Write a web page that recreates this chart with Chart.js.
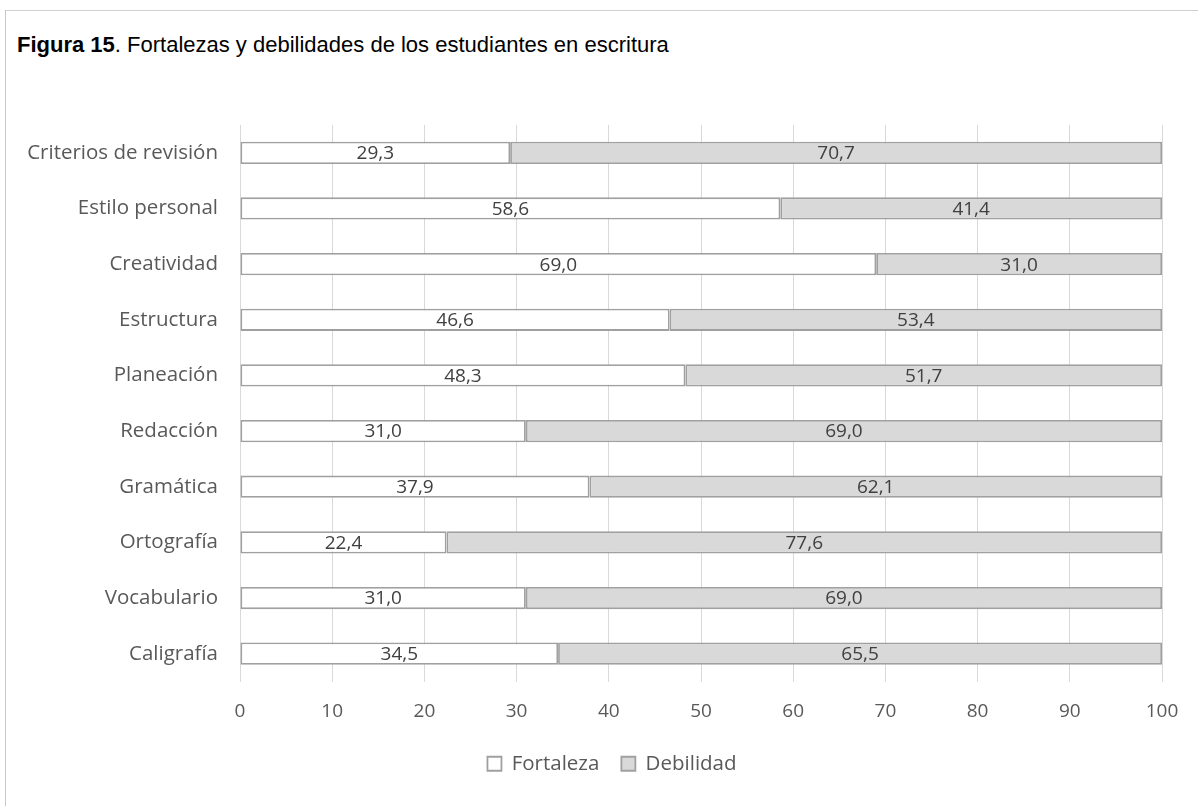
<!DOCTYPE html>
<html>
<head>
<meta charset="utf-8">
<script src="https://cdn.jsdelivr.net/npm/chart.js@4.4.0/dist/chart.umd.min.js"></script>
<style>
  html,body{margin:0;padding:0;background:#fff;}
  #wrap{position:relative;width:1198px;height:806px;overflow:hidden;}
  #frameTop{position:absolute;left:5px;top:10px;width:1193px;height:1px;background:#d0d0d0;}
  #frameLeft{position:absolute;left:5px;top:10px;width:1px;height:796px;background:#c8c8c8;}
  #title{position:absolute;left:17px;top:32px;font-family:"Liberation Sans",Arial,sans-serif;font-size:22px;color:#000;white-space:nowrap;}
  #title b{font-weight:bold;}
  canvas{position:absolute;left:0;top:0;}
</style>
</head>
<body>
<div id="wrap">
  <div id="frameTop"></div>
  <div id="frameLeft"></div>
  <div id="title"><b>Figura 15</b>. Fortalezas y debilidades de los estudiantes en escritura</div>
  <canvas id="chart" width="1198" height="806"></canvas>
</div>
<script>
// categorías (de arriba hacia abajo) y porcentajes por serie
const categorias = ['Criterios de revisión','Estilo personal','Creatividad','Estructura','Planeación','Redacción','Gramática','Ortografía','Vocabulario','Caligrafía'];
const fortaleza = [29.3, 58.6, 69.0, 46.6, 48.3, 31.0, 37.9, 22.4, 31.0, 34.5];
const debilidad = [70.7, 41.4, 31.0, 53.4, 51.7, 69.0, 62.1, 77.6, 69.0, 65.5];
const ticksX = [0,10,20,30,40,50,60,70,80,90,100];

const FONT = '"Open Sans", sans-serif';
const fmt = v => v.toFixed(1).replace('.', ',');

// etiquetas de valor centradas en cada segmento
const etiquetas = {
  id: 'etiquetas',
  afterDatasetsDraw(chart){
    const ctx = chart.ctx;
    ctx.save();
    ctx.font = '19px ' + FONT;
    ctx.fillStyle = '#404040';
    ctx.textAlign = 'center';
    ctx.textBaseline = 'middle';
    chart.data.datasets.forEach((ds, i) => {
      chart.getDatasetMeta(i).data.forEach((bar, j) => {
        const p = bar.getProps(['x','y','base'], true);
        ctx.fillText(fmt(ds.data[j]), (p.x + p.base) / 2, p.y + 1);
      });
    });
    ctx.restore();
  }
};

// la leyenda va un poco a la derecha del centro del lienzo
const moverLeyenda = {
  id: 'moverLeyenda',
  afterLayout(chart){
    const lg = chart.legend;
    if(!lg) return;
    lg.left += 31; lg.right += 31;
  }
};

new Chart(document.getElementById('chart'), {
  type: 'bar',
  data: {
    labels: categorias,
    datasets: [
      { label: 'Fortaleza', data: fortaleza, backgroundColor: '#ffffff', borderColor: '#a0a0a0', borderWidth: 1.8, borderSkipped: false },
      { label: 'Debilidad', data: debilidad, backgroundColor: '#d9d9d9', borderColor: '#a0a0a0', borderWidth: 1.8, borderSkipped: false }
    ]
  },
  options: {
    indexAxis: 'y',
    responsive: false,
    animation: false,
    barPercentage: 0.4,
    categoryPercentage: 1,
    layout: { padding: { top: 125, right: 36, left: 0, bottom: 22 } },
    scales: {
      x: {
        stacked: true, min: 0, max: 100,
        afterBuildTicks: s => { s.ticks = ticksX.map(v => ({ value: v })); },
        afterFit: s => { s.height = 50; },
        grid: { color: '#d9d9d9', drawTicks: false },
        border: { display: false },
        ticks: { color: '#595959', font: { family: FONT, size: 19 }, padding: 19 }
      },
      y: {
        stacked: true,
        afterFit: s => { s.width = 240; },
        grid: { display: false, drawTicks: false },
        border: { display: false },
        ticks: { color: '#595959', font: { family: FONT, size: 20.5 }, padding: 22 }
      }
    },
    plugins: {
      legend: {
        position: 'bottom',
        labels: {
          color: '#595959', font: { family: FONT, size: 20.5 },
          boxWidth: 14, boxHeight: 14, padding: 22,
          generateLabels: chart => chart.data.datasets.map((ds, i) => ({
            text: ds.label, fillStyle: ds.backgroundColor, strokeStyle: '#a0a0a0',
            lineWidth: 1.8, datasetIndex: i, fontColor: '#595959'
          }))
        }
      },
      tooltip: { enabled: false },
      title: { display: false }
    }
  },
  plugins: [etiquetas, moverLeyenda]
});
</script>
</body>
</html>
